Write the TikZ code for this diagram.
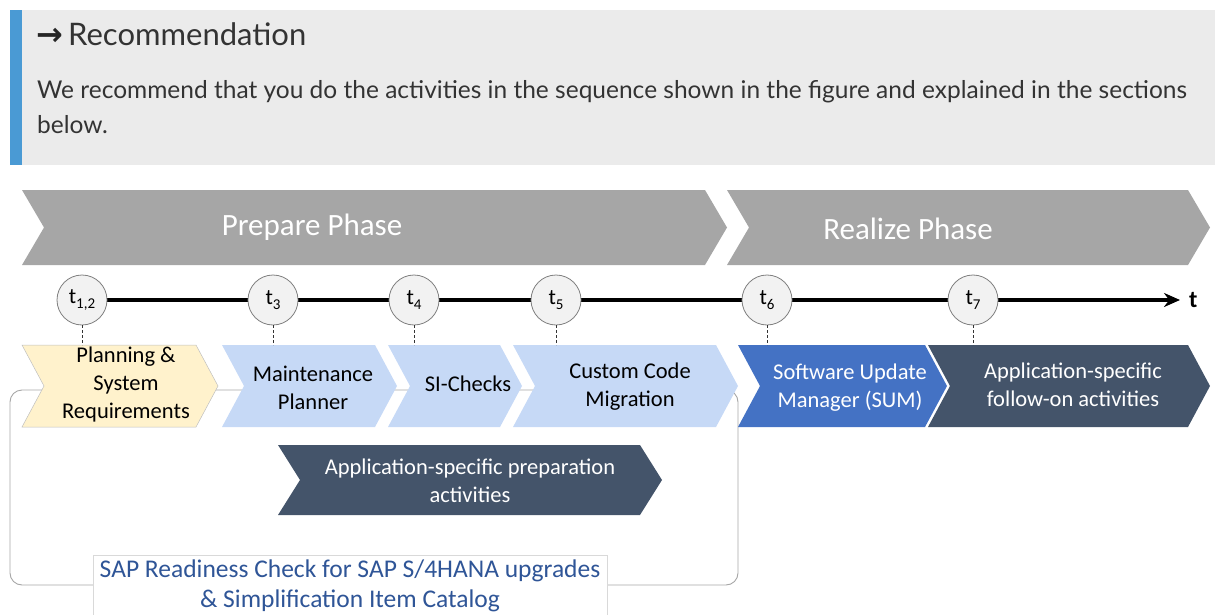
\documentclass[tikz,border=0pt]{standalone}
\usepackage{fontspec}
\setmainfont{Carlito}
\newfontfamily\hdrfont{Lato}
\newfontfamily\dvfont{DejaVu Sans}
\usetikzlibrary{arrows.meta,calc}
\definecolor{hdrbg}{HTML}{EBEBEB}
\definecolor{hdrbar}{HTML}{4A9AD4}
\definecolor{hdrtxt}{HTML}{333333}
\definecolor{phasegrey}{HTML}{A6A6A6}
\definecolor{planyel}{HTML}{FFF2CC}
\definecolor{ltblue}{HTML}{C6D9F6}
\definecolor{sumblue}{HTML}{4472C4}
\definecolor{slate}{HTML}{44546A}
\definecolor{circfill}{HTML}{F2F2F2}
\definecolor{circline}{HTML}{7F7F7F}
\definecolor{bracketgrey}{HTML}{A6A6A6}
\definecolor{rctxt}{HTML}{2F5597}
\newcommand\chevpath[6]{% fill, x1, x2, ytop, ybot, depth
  \fill[#1] (#2,#4) -- (#3,#4) -- ({#3+#6},{(#4+#5)/2}) -- (#3,#5) -- (#2,#5) -- ({#2+#6},{(#4+#5)/2}) -- cycle;}
\tikzset{
  phasetxt/.style={text=white, font=\fontsize{31}{34}\selectfont},
  steptxt/.style={align=center, font=\fontsize{22.5}{28}\selectfont, inner sep=0pt},
  bodytxt/.style={anchor=base west, text=hdrtxt, inner sep=0pt, font=\hdrfont\fontsize{24.5}{35}\selectfont},
  tcirc/.style={circle, minimum size=50pt, inner sep=0pt, fill=circfill, draw=circline, line width=0.8pt, font=\fontsize{22}{22}\selectfont},
  tick/.style={line width=0.6pt, draw=black!80, dash pattern=on 3pt off 2pt},
}
\newcommand\sbs[1]{\raisebox{-5pt}{\fontsize{15}{15}\selectfont #1}}
\begin{document}
\begin{tikzpicture}[x=1pt,y=-1pt]
\useasboundingbox (0,0) rectangle (1215,615);
% header
\fill[hdrbg] (22,10) rectangle (1215,165);
\fill[hdrbar] (10,10) rectangle (22,165);
\node[anchor=base west, text=hdrtxt, inner sep=0pt] (title) at (36,46) {{\dvfont\bfseries\fontsize{32}{34}\selectfont\textcolor{black!85}{→}}{\hdrfont\fontsize{31}{36}\selectfont\,Recommendation}};
\node[bodytxt] (body1) at (37,99) {We recommend that you do the activities in the sequence shown in the figure and explained in the sections};
\node[bodytxt] (body2) at (37,134) {below.};
% phases
\chevpath{phasegrey}{22}{705}{190}{265}{22}
\chevpath{phasegrey}{727}{1188}{190}{265}{22}
\node[phasetxt] (prep) at (312,227) {Prepare Phase};
\node[phasetxt] (real) at (908,229) {Realize Phase};
% bracket
\draw[bracketgrey, line width=0.9pt, rounded corners=12pt] (10,390) rectangle (738,585);
% steps
\chevpath{planyel}{22}{196}{345}{427}{22}
\draw[black!25, line width=0.5pt] (22,345) -- (196,345) -- (218,386) -- (196,427) -- (22,427) -- (44,386) -- cycle;
\chevpath{ltblue}{222}{375}{345}{427}{22}
\chevpath{ltblue}{388}{500}{345}{427}{22}
\chevpath{ltblue}{513}{716}{345}{427}{22}
\chevpath{sumblue}{738}{925}{345}{427}{22}
\chevpath{slate}{928}{1188}{345}{427}{22}
\chevpath{slate}{278}{640}{445}{515}{22}
\node[steptxt] (plan) at (126,384) {Planning \&\\System\\Requirements};
\node[steptxt] (mp) at (313,388) {Maintenance\\Planner};
\node[steptxt] (si) at (468,384) {SI-Checks};
\node[steptxt] (ccm) at (630,387) {Custom Code\\Migration};
\node[steptxt, text=white] (sum) at (850,388) {Software Update\\Manager (SUM)};
\node[steptxt, text=white] (fo) at (1073,385) {Application-specific\\follow-on activities};
\node[steptxt, text=white] (asp) at (470,481) {Application-specific preparation\\activities};
% readiness label
\node[draw=black!15, fill=white, line width=0.6pt, minimum width=514pt, minimum height=62pt, inner sep=0pt] (rc) at (350,586) {};
\node[steptxt, text=rctxt, font=\fontsize{25.5}{30}\selectfont] (rctext) at (rc.center) {SAP Readiness Check for SAP S/4HANA upgrades\\\& Simplification Item Catalog};
% timeline
\coordinate (tstart) at (82,300);
\coordinate (tend) at (1180,300);
\draw[line width=4.5pt, -{Stealth[length=16pt,width=14pt]}] (tstart) -- (tend);
\node[font=\bfseries\fontsize{24}{24}\selectfont, anchor=west, inner sep=0pt] (tlab) at (1189,300) {t};
\node[tcirc] (t12) at (82,300) {t\sbs{1,2}};
\node[tcirc] (t3) at (273,300) {t\sbs{3}};
\node[tcirc] (t4) at (414,300) {t\sbs{4}};
\node[tcirc] (t5) at (556,300) {t\sbs{5}};
\node[tcirc] (t6) at (767,300) {t\sbs{6}};
\node[tcirc] (t7) at (973,300) {t\sbs{7}};
\foreach \n in {t12,t3,t4,t5,t6,t7}{
  \coordinate (\n top) at ($(\n.south)+(0,20)$);
}
\draw[tick] (t12.south) -- (t12top);
\draw[tick] (t3.south) -- (t3top);
\draw[tick] (t4.south) -- (t4top);
\draw[tick] (t5.south) -- (t5top);
\draw[tick] (t6.south) -- (t6top);
\draw[tick] (t7.south) -- (t7top);
\end{tikzpicture}
\end{document}
